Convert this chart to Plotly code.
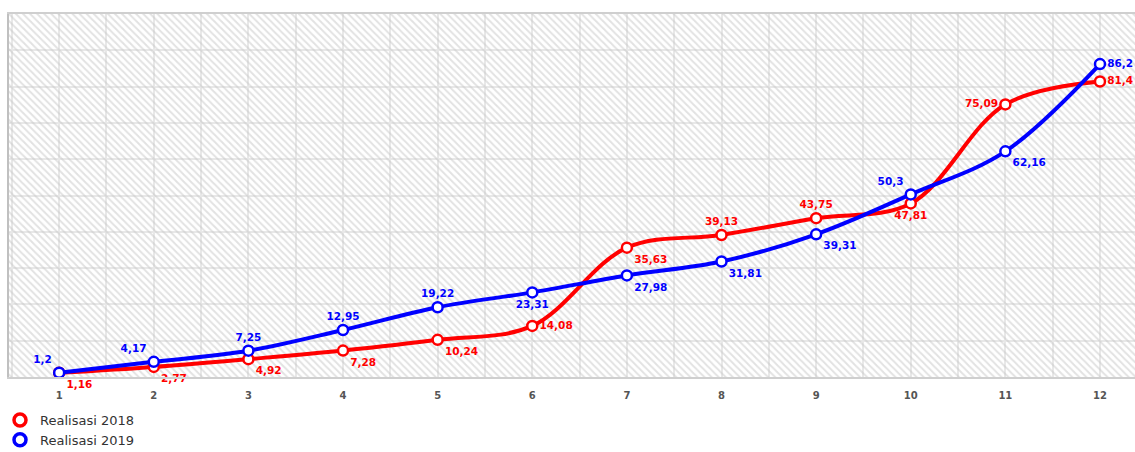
import plotly.graph_objects as go

months = list(range(1, 13))
realisasi_2018 = [1.16, 2.77, 4.92, 7.28, 10.24, 14.08, 35.63, 39.13, 43.75, 47.81, 75.09, 81.4]
realisasi_2019 = [1.2, 4.17, 7.25, 12.95, 19.22, 23.31, 27.98, 31.81, 39.31, 50.3, 62.16, 86.2]
pos_2018 = ["bottom right", "bottom right", "bottom right", "bottom right", "bottom right", "middle right",
            "bottom right", "top center", "top center", "bottom center", "middle left", "middle right"]
pos_2019 = ["top left", "top left", "top center", "top center", "top center", "bottom center",
            "bottom right", "bottom right", "bottom right", "top left", "bottom right", "middle right"]

RED = "#ff0000"
BLUE = "#0000ff"

def fmt(v):
    return ("%g" % v).replace(".", ",")

fig = go.Figure()

# hatched background
fig.add_trace(go.Scatter(
    x=[0, 14, 14, 0, 0], y=[0, 0, 100, 100, 0], mode="none", fill="toself",
    fillcolor="rgba(0,0,0,0)",
    fillpattern=dict(shape="\\", fgcolor="#c6c6c6", bgcolor="rgba(0,0,0,0)", size=5, solidity=0.4),
    hoverinfo="skip", showlegend=False))

for name, vals, col, pos in [("Realisasi 2018", realisasi_2018, RED, pos_2018),
                             ("Realisasi 2019", realisasi_2019, BLUE, pos_2019)]:
    fig.add_trace(go.Scatter(
        x=months, y=vals, mode="lines+markers+text", name=name,
        line=dict(color=col, width=4, shape="spline", smoothing=1.0),
        marker=dict(size=10, color="white", line=dict(color=col, width=2.5)),
        text=[fmt(v) for v in vals], textposition=pos,
        textfont=dict(family="DejaVu Sans", size=10.5, color=col, weight="bold"),
        showlegend=False, cliponaxis=False))
    fig.add_trace(go.Scatter(
        x=[None], y=[None], mode="markers", name=name,
        marker=dict(size=12, color="white", line=dict(color=col, width=3.5)),
        showlegend=True))

fig.update_layout(
    width=1135, height=452,
    margin=dict(l=9, r=0, t=14, b=75, autoexpand=False),
    plot_bgcolor="white", paper_bgcolor="white",
    font=dict(family="DejaVu Sans", color="#444"),
    xaxis=dict(range=[0.47, 12.37], tickvals=months, ticktext=[str(m) for m in months],
               showgrid=True, gridcolor="#e8e8e8", gridwidth=2, zeroline=False,
               minor=dict(dtick=0.5, tick0=0.5, showgrid=True, gridcolor="#e8e8e8", gridwidth=2),
               showline=True, linecolor="#cfcfcf", linewidth=2, mirror=True,
               ticks="", ticklabelstandoff=8, automargin=False,
               tickfont=dict(size=10, color="#555", weight="bold")),
    yaxis=dict(range=[0, 100], dtick=10, showticklabels=False, showgrid=True,
               gridcolor="#e8e8e8", gridwidth=2, zeroline=False, automargin=False,
               showline=True, linecolor="#c0c0c0", linewidth=2),
    legend=dict(xref="container", yref="container", x=0, y=1 - 405 / 452,
                xanchor="left", yanchor="top", orientation="v",
                font=dict(size=13, color="#333"), tracegroupgap=0,
                bgcolor="rgba(0,0,0,0)", itemwidth=30),
)

fig.write_html("out.html")
